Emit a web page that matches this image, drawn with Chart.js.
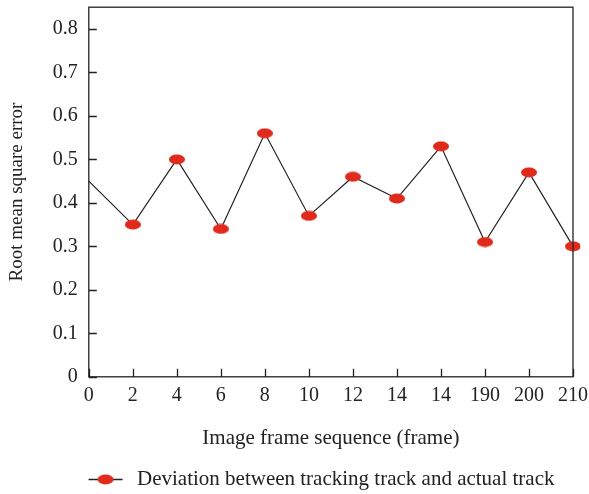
<!DOCTYPE html>
<html>
<head>
<meta charset="utf-8">
<script src="https://cdn.jsdelivr.net/npm/chart.js@4"></script>
<style>
  html, body { margin: 0; padding: 0; background: #fff; }
  #wrap { width: 589px; height: 494px; }
</style>
</head>
<body>
<div id="wrap"><canvas id="myChart" width="589" height="494"></canvas></div>
<script>
// tick labels on the x axis (as printed, incl. the repeated 14)
const frameLabels = ['0', '2', '4', '6', '8', '10', '12', '14', '14', '190', '200', '210'];
// root mean square error per frame
const rmseValues = [0.45, 0.35, 0.50, 0.34, 0.56, 0.37, 0.46, 0.41, 0.53, 0.31, 0.47, 0.30];
// first point is drawn without a marker
const markerShown = [false, true, true, true, true, true, true, true, true, true, true, true];
// y axis tick values
const yTicks = [0, 0.1, 0.2, 0.3, 0.4, 0.5, 0.6, 0.7, 0.8];

const RED = '#e02a1c';
const FONT = "'Liberation Serif', 'DejaVu Serif', serif";

// red ellipse marker; legend version gets a line through it and some blank space
function ellipseMarker(w, h, line) {
  const c = document.createElement('canvas');
  c.width = line ? line.blank + line.len + line.gap : w;
  c.height = h;
  const ctx = c.getContext('2d');
  let cx = w / 2;
  if (line) {
    ctx.strokeStyle = '#222';
    ctx.lineWidth = 1.3;
    ctx.beginPath();
    ctx.moveTo(line.blank, h / 2);
    ctx.lineTo(line.blank + line.len, h / 2);
    ctx.stroke();
    cx = line.blank + line.len / 2;
  }
  ctx.fillStyle = RED;
  ctx.beginPath();
  ctx.ellipse(cx, h / 2, w / 2, h / 2 - 0.5, 0, 0, Math.PI * 2);
  ctx.fill();
  return c;
}

const pointImg = ellipseMarker(16, 11);
const legendImg = ellipseMarker(16, 11, { blank: 52, len: 34, gap: 4 });

// frame around the plot and inward tick marks
const framePlugin = {
  id: 'frame',
  afterDraw(chart) {
    const {ctx, chartArea: a, scales} = chart;
    ctx.save();
    ctx.strokeStyle = '#222';
    ctx.lineWidth = 1.3;
    ctx.strokeRect(a.left, a.top, a.right - a.left, a.bottom - a.top);
    ctx.beginPath();
    scales.x.ticks.forEach((t, i) => {
      const px = Math.round(scales.x.getPixelForTick(i)) + 0.5;
      ctx.moveTo(px, a.bottom);
      ctx.lineTo(px, a.bottom - 8);
    });
    scales.y.ticks.forEach((t, i) => {
      const py = Math.round(scales.y.getPixelForTick(i)) + 0.5;
      ctx.moveTo(a.left, py);
      ctx.lineTo(a.left + 8, py);
    });
    ctx.stroke();
    ctx.restore();
  }
};

const data = {
  labels: frameLabels,
  datasets: [{
    label: 'Deviation between tracking track and actual track',
    data: rmseValues,
    borderColor: '#222',
    borderWidth: 1.2,
    backgroundColor: RED,
    pointStyle: markerShown.map(s => s ? pointImg : false),
    pointRadius: markerShown.map(s => s ? 6 : 0),
    tension: 0,
    fill: false
  }]
};

const config = {
  type: 'line',
  data: data,
  options: {
    responsive: false,
    animation: false,
    layout: { padding: { top: 2, right: 0, left: 2, bottom: -6 } },
    plugins: {
      tooltip: { enabled: false },
      legend: {
        position: 'bottom',
        labels: {
          usePointStyle: true,
          pointStyle: legendImg,
          pointStyleWidth: legendImg.width,
          color: '#222',
          font: { family: FONT, size: 21 },
          padding: 6
        }
      }
    },
    scales: {
      x: {
        offset: false,
        grid: { display: false, drawTicks: false },
        border: { display: false },
        afterFit: scale => {
          scale.paddingLeft = 0;
          scale.paddingRight = 16;
        },
        ticks: {
          color: '#222',
          font: { family: FONT, size: 20 },
          maxRotation: 0,
          autoSkip: false,
          padding: 7
        },
        title: {
          display: true,
          text: 'Image frame sequence (frame)',
          color: '#222',
          font: { family: FONT, size: 21 },
          padding: { top: 11, bottom: 12 }
        }
      },
      y: {
        min: 0,
        max: 0.85,
        grid: { display: false, drawTicks: false },
        border: { display: false },
        afterBuildTicks: scale => {
          scale.ticks = yTicks.map(v => ({ value: v }));
        },
        afterFit: scale => {
          scale.paddingTop = 0;
          scale.paddingBottom = 0;
        },
        ticks: {
          color: '#222',
          font: { family: FONT, size: 20 },
          padding: 11,
          callback: v => String(v)
        },
        title: {
          display: true,
          text: 'Root mean square error',
          color: '#222',
          font: { family: FONT, size: 19 },
          padding: { bottom: 13 }
        }
      }
    }
  },
  plugins: [framePlugin]
};

const myChart = new Chart(document.getElementById('myChart'), config);
</script>
</body>
</html>
